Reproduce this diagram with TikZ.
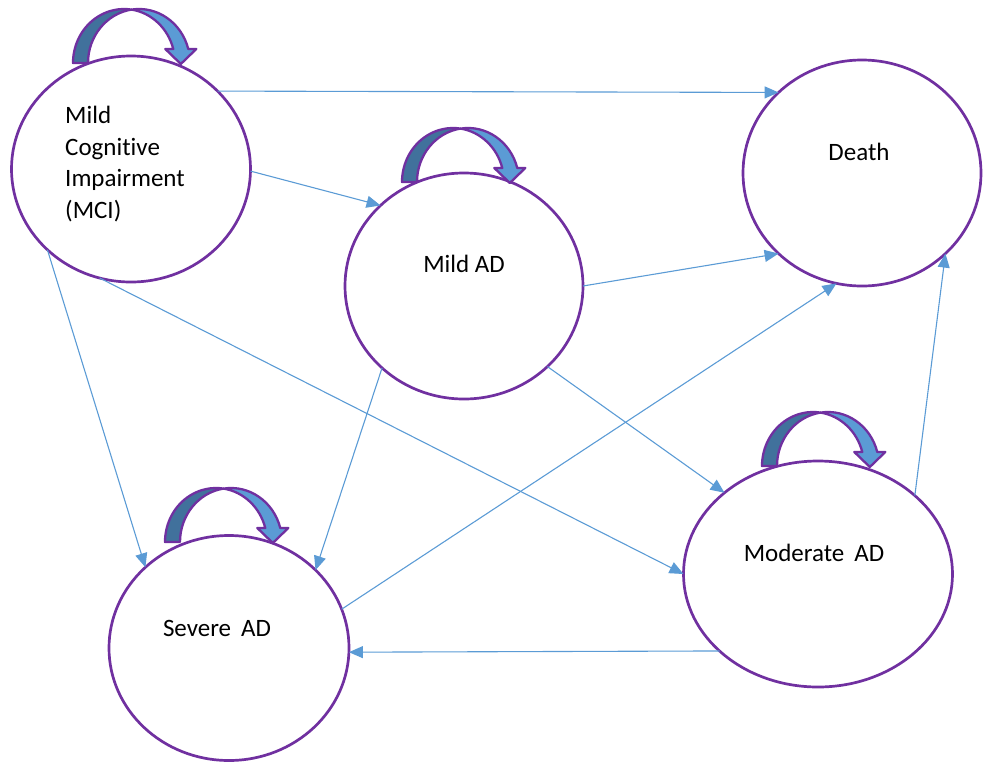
\documentclass[tikz,border=0pt]{standalone}
\usepackage{fontspec}
\setmainfont{Carlito}[Ligatures=NoCommon]
\usetikzlibrary{shapes.geometric,arrows.meta}
\definecolor{purp}{HTML}{7030A0}
\definecolor{lblue}{HTML}{5B9BD5}
\definecolor{dblue}{HTML}{41719C}
\begin{document}
\begin{tikzpicture}[x=1pt,y=1pt,
  state/.style={ellipse, draw=purp, line width=2.7pt, fill=white, inner sep=0pt, outer sep=0pt},
  conn/.style={draw=lblue, line width=1.1pt, -{Triangle[length=14pt,width=12pt]}},
  lbl/.style={font=\fontsize{25}{31.5}\selectfont, inner sep=0pt, anchor=base},
  loopline/.style={draw=purp, line width=2.3pt, line join=round},
  selfloop/.pic={
    \path[loopline, fill=dblue] (0,0)
      arc[start angle=180, end angle=81.54, x radius=51, y radius=54]
      arc[start angle=98.46, end angle=180, x radius=51, y radius=54] -- cycle;
    \path[loopline, fill=lblue] (58.5,53.41)
      arc[start angle=98.46, end angle=15.03, x radius=51, y radius=54]
      -- (123.3,14) -- (107.8,-1) -- (92.3,14) -- (100.25,14)
      arc[start angle=15.03, end angle=81.54, x radius=51, y radius=54] -- cycle;
  }
]
\useasboundingbox (0,0) rectangle (983,-764);

% states
\node[state, minimum width=239pt, minimum height=226pt] (mci) at (131,-169) {};
\node[state, minimum width=238pt, minimum height=226pt] (mild) at (464,-286) {};
\node[state, minimum width=238pt, minimum height=226pt] (death) at (862,-173) {};
\node[state, minimum width=269pt, minimum height=226pt] (moderate) at (818,-574) {};
\node[state, minimum width=240pt, minimum height=225pt] (severe) at (229,-648) {};

% self loops
\pic (loopmci) at (73,-63) {selfloop};
\pic (loopmild) at (402,-182) {selfloop};
\pic (loopmod) at (762,-466) {selfloop};
\pic (loopsev) at (165,-542) {selfloop};

% transitions
\draw[conn] (mci.42.6) -- (death.136.4);
\draw[conn] (mci.359.5) -- (mild.136.8);
\draw[conn] (mci.224.3) -- (severe.136.4);
\draw[conn] (mci.254) -- (moderate.180);
\draw[conn] (mild.0) -- (death.224);
\draw[conn] (mild.225.7) -- (severe.42.6);
\draw[conn] (mild.316.7) -- (moderate.139.7);
\draw[conn] (severe.19.2) -- (death.257.9);
\draw[conn] (moderate.39.4) -- (death.316.7);
\draw[conn] (moderate.218.5) -- (severe.358.6);

% labels
\node[lbl] (deatht) at (859,-160) {Death};
\node[lbl] (mildt) at (464,-272) {Mild AD};
\node[lbl] (severet) at (217,-636) {Severe\hspace{10pt}AD};
\node[lbl] (modt) at (814,-561) {Moderate\hspace{10pt}AD};
\node[lbl, anchor=base west, align=left] (mcit) at (65,-218) {Mild\\Cognitive\\Impairment\\(MCI)};
\end{tikzpicture}
\end{document}
